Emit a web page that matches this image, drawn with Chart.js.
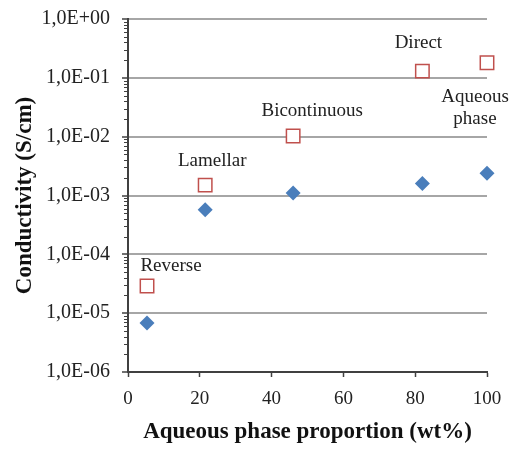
<!DOCTYPE html>
<html>
<head>
<meta charset="utf-8">
<script src="https://cdn.jsdelivr.net/npm/chart.js@4/dist/chart.umd.min.js"></script>
<style>
  html, body { margin: 0; padding: 0; background: #fff; }
  #wrap { width: 513px; height: 450px; }
</style>
</head>
<body>
<div id="wrap"><canvas id="chart" width="513" height="450"></canvas></div>
<script>
// ---------------------------------------------------------------
// DATA
// ---------------------------------------------------------------
const proportion   = [5.3, 21.5, 46, 82, 100];             // wt%
const condBlue     = [6.8e-6, 5.7e-4, 1.1e-3, 1.6e-3, 2.4e-3];
const condRed      = [2.9e-5, 1.5e-3, 1.03e-2, 1.3e-1, 1.8e-1];
const phaseLabels  = ["Reverse", "Lamellar", "Bicontinuous", "Direct", ["Aqueous", "phase"]];
const yDecades     = [1e-6, 1e-5, 1e-4, 1e-3, 1e-2, 1e-1, 1];
const xTicks       = [0, 20, 40, 60, 80, 100];

const SERIF = "'Liberation Serif', 'DejaVu Serif', serif";
const AXIS_DARK = "#404040";

const fmtSci = (v) => {
  const e = Math.round(Math.log10(v));
  const sign = e < 0 ? "-" : "+";
  return "1,0E" + sign + String(Math.abs(e)).padStart(2, "0");
};

// label offsets (px) from each red square
const labelOffsets = [[24, -20], [7, -24], [19, -25], [-4, -28], [-12, 34]];

// ---------------------------------------------------------------
// PLUGINS
// ---------------------------------------------------------------
const minorTicks = {
  id: "minorTicks",
  afterDraw(chart) {
    const y = chart.scales.y;
    const ctx = chart.ctx;
    const left = chart.chartArea.left;
    ctx.save();
    ctx.strokeStyle = AXIS_DARK;
    ctx.lineWidth = 1;
    for (let k = 0; k < yDecades.length - 1; k++) {
      for (let m = 2; m <= 9; m++) {
        const py = Math.round(y.getPixelForValue(yDecades[k] * m)) + 0.5;
        ctx.beginPath();
        ctx.moveTo(left - 4, py);
        ctx.lineTo(left, py);
        ctx.stroke();
      }
    }
    ctx.restore();
  },
};

const phaseText = {
  id: "phaseText",
  afterDatasetsDraw(chart) {
    const { x, y } = chart.scales;
    const ctx = chart.ctx;
    ctx.save();
    ctx.font = "19px " + SERIF;
    ctx.fillStyle = "#222";
    ctx.textAlign = "center";
    ctx.textBaseline = "middle";
    phaseLabels.forEach((lab, i) => {
      const px = x.getPixelForValue(proportion[i]) + labelOffsets[i][0];
      const py = y.getPixelForValue(condRed[i]) + labelOffsets[i][1];
      const lines = Array.isArray(lab) ? lab : [lab];
      lines.forEach((t, j) => ctx.fillText(t, px, py + j * 22));
    });
    ctx.restore();
  },
};

// ---------------------------------------------------------------
// CHART
// ---------------------------------------------------------------
new Chart(document.getElementById("chart").getContext("2d"), {
  type: "scatter",
  data: {
    datasets: [
      {
        label: "red",
        data: proportion.map((p, i) => ({ x: p, y: condRed[i] })),
        pointStyle: "rect",
        pointRadius: 9.5,
        pointBorderWidth: 1.5,
        borderColor: "#C0504D",
        backgroundColor: "#ffffff",
        clip: false,
      },
      {
        label: "blue",
        data: proportion.map((p, i) => ({ x: p, y: condBlue[i] })),
        pointStyle: "rectRot",
        pointRadius: 7.5,
        pointBorderWidth: 0,
        borderColor: "#4A7EBB",
        backgroundColor: "#4A7EBB",
        clip: false,
      },
    ],
  },
  options: {
    responsive: false,
    animation: false,
    layout: { padding: { left: 0, right: 26, top: 19, bottom: 0 } },
    plugins: { legend: { display: false }, tooltip: { enabled: false } },
    scales: {
      x: {
        type: "linear",
        min: 0,
        max: 100,
        afterBuildTicks: (s) => { s.ticks = xTicks.map((v) => ({ value: v })); },
        afterFit: (s) => { s.height = 78; s.paddingLeft = 0; s.paddingRight = 0; },
        border: { color: AXIS_DARK, width: 2 },
        grid: { drawOnChartArea: false, drawTicks: true, tickLength: 5, tickColor: AXIS_DARK, tickWidth: 1.5 },
        ticks: { color: "#222", font: { family: SERIF, size: 19 }, padding: 11 },
        title: {
          display: true,
          text: "Aqueous phase proportion (wt%)",
          color: "#111",
          font: { family: SERIF, size: 23, weight: "bold" },
          padding: { top: 0, bottom: 4 },
        },
      },
      y: {
        type: "logarithmic",
        min: 1e-6,
        max: 1,
        afterBuildTicks: (s) => { s.ticks = yDecades.map((v) => ({ value: v })); },
        afterFit: (s) => { s.width = 128; s.paddingTop = 0; s.paddingBottom = 0; },
        border: { color: AXIS_DARK, width: 2 },
        grid: { color: "#a6a6a6", lineWidth: 2, drawTicks: true, tickLength: 6, tickColor: AXIS_DARK, tickWidth: 1.5 },
        ticks: { color: "#222", font: { family: SERIF, size: 20 }, padding: 12, callback: (v) => fmtSci(v) },
        title: {
          display: true,
          text: "Conductivity (S/cm)",
          color: "#111",
          font: { family: SERIF, size: 23, weight: "bold" },
          padding: { top: 11, bottom: 0 },
        },
      },
    },
  },
  plugins: [minorTicks, phaseText],
});
</script>
</body>
</html>
